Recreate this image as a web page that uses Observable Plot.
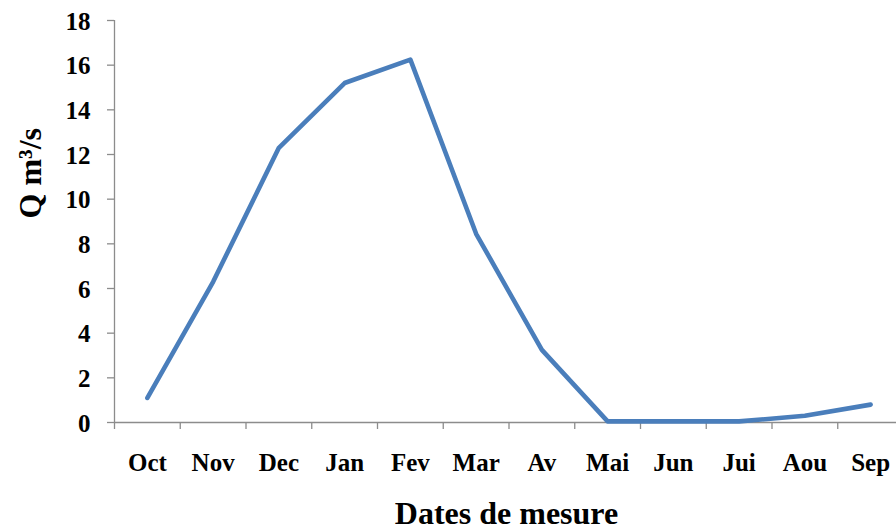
<!DOCTYPE html>
<html>
<head>
<meta charset="utf-8">
<script src="https://cdn.jsdelivr.net/npm/d3@7"></script>
<script src="https://cdn.jsdelivr.net/npm/@observablehq/plot@0.6"></script>
<style>
  html, body { margin: 0; padding: 0; background: #fff; }
  svg { display: block; }
</style>
</head>
<body>
<div id="chart"></div>
<script>
const months = ["Oct", "Nov", "Dec", "Jan", "Fev", "Mar", "Av", "Mai", "Jun", "Jui", "Aou", "Sep"];
const flow = [1.1, 6.3, 12.3, 15.2, 16.25, 8.45, 3.25, 0.05, 0.05, 0.05, 0.3, 0.8];
const yTicks = [0, 2, 4, 6, 8, 10, 12, 14, 16, 18];
const yLabel = "Q m³/s";
const xLabel = "Dates de mesure";

const data = months.map((m, i) => ({month: m, idx: i + 0.5, q: flow[i]}));
const bounds = d3.range(months.length + 1);

const font = "'Liberation Serif', 'Times New Roman', serif";
const axisColor = "#8c8c8c";

const chart = Plot.plot({
  width: 896,
  height: 530,
  marginLeft: 114,
  marginTop: 20,
  marginBottom: 108,
  marginRight: 0,
  style: {fontFamily: font, background: "#fff"},
  x: {type: "linear", domain: [0, 12], range: [114, 903], axis: null},
  y: {type: "linear", domain: [0, 18], axis: null},
  marks: [
    Plot.ruleX([0], {y1: 0, y2: 18, stroke: axisColor, strokeWidth: 1.3}),
    Plot.ruleY([0], {x1: 0, x2: 12, stroke: axisColor, strokeWidth: 1.3}),
    Plot.axisY(yTicks, {anchor: "left", tickSize: 7, text: null, label: null, stroke: axisColor, strokeWidth: 1.3}),
    Plot.axisX(bounds, {anchor: "bottom", tickSize: 7, text: null, label: null, stroke: axisColor, strokeWidth: 1.3}),
    Plot.text(yTicks, {y: d => d, frameAnchor: "left", text: d => String(d), textAnchor: "end", dx: -24, dy: 1, fontSize: 25, fontWeight: "bold", fill: "#000"}),
    Plot.text(data, {x: "idx", frameAnchor: "bottom", text: "month", lineAnchor: "bottom", dy: 48, fontSize: 25, fontWeight: "bold", fill: "#000"}),
    Plot.line(data, {x: "idx", y: "q", stroke: "#4a7ebb", strokeWidth: 4.6, strokeLinejoin: "round", strokeLinecap: "round"}),
    Plot.text([xLabel], {frameAnchor: "bottom", text: d => d, lineAnchor: "bottom", dy: 101, dx: 1, fontSize: 32, fontWeight: "bold", fill: "#000"}),
    Plot.text([yLabel], {frameAnchor: "left", text: d => d, lineAnchor: "bottom", dx: -74, dy: -3, rotate: -90, fontSize: 32, fontWeight: "bold", fill: "#000"})
  ]
});
document.getElementById("chart").appendChild(chart);
</script>
</body>
</html>
